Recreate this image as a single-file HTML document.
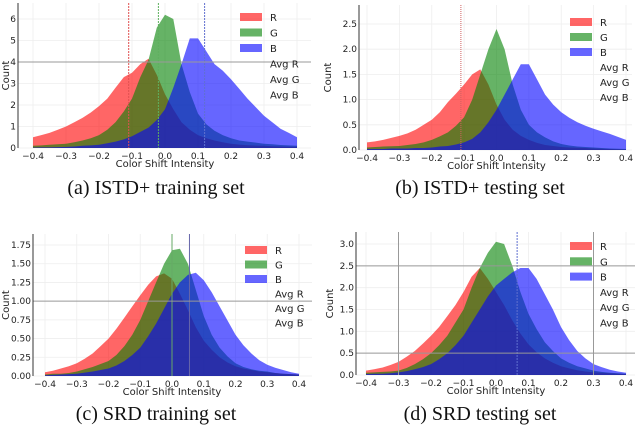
<!DOCTYPE html>
<html><head><meta charset="utf-8"><style>
body{margin:0;background:#fff;}
svg{display:block;font-family:"DejaVu Sans","Liberation Sans",sans-serif;}
.cap{font-family:"Liberation Serif",serif;font-size:20px;fill:#111;}
.tk{font-size:9px;fill:#222;}
.lg{font-size:10px;fill:#222;}
</style></head><body>
<svg id="root" width="640" height="429" viewBox="0 0 640 429"></svg>
<script>
const xCats=[-0.4,-0.375,-0.35,-0.325,-0.3,-0.275,-0.25,-0.225,-0.2,-0.175,-0.15,-0.125,-0.1,-0.075,-0.05,-0.025,0,0.025,0.05,0.075,0.1,0.125,0.15,0.175,0.2,0.225,0.25,0.275,0.3,0.325,0.35,0.375,0.4];
const xTicks=[-0.4,-0.3,-0.2,-0.1,0.0,0.1,0.2,0.3,0.4];
const xTickLabels=["−0.4","−0.3","−0.2","−0.1","0.0","0.1","0.2","0.3","0.4"];
const aR=[0.5,0.6,0.7,0.85,1.0,1.2,1.4,1.65,1.95,2.3,2.8,3.3,3.5,3.9,4.15,3.4,2.5,1.8,1.2,0.85,0.6,0.45,0.35,0.27,0.2,0.16,0.13,0.11,0.1,0.08,0.07,0.06,0.05];
const aG=[0.1,0.12,0.15,0.17,0.2,0.27,0.35,0.45,0.6,0.85,1.2,1.7,2.3,3.3,4.1,5.6,6.2,6.0,3.9,2.6,1.6,1.1,0.8,0.6,0.45,0.35,0.3,0.25,0.2,0.17,0.14,0.12,0.1];
const aB=[0.02,0.03,0.03,0.04,0.05,0.07,0.1,0.12,0.15,0.22,0.3,0.4,0.55,0.75,0.95,1.3,1.8,2.8,3.9,5.1,5.1,4.5,3.9,3.6,3.2,2.75,2.3,1.9,1.5,1.2,0.9,0.7,0.5];
const aYTicks=[0,1,2,3,4,5,6];
const aYLabels=["0","1","2","3","4","5","6"];
const bR=[0.15,0.17,0.2,0.24,0.28,0.33,0.4,0.5,0.6,0.75,0.95,1.12,1.3,1.5,1.6,1.3,0.9,0.6,0.4,0.28,0.2,0.14,0.1,0.08,0.06,0.05,0.045,0.04,0.03,0.025,0.02,0.015,0.01];
const bG=[0.05,0.06,0.07,0.075,0.08,0.1,0.12,0.15,0.2,0.27,0.35,0.48,0.65,1.0,1.5,2.0,2.4,2.0,1.3,0.8,0.5,0.35,0.25,0.17,0.12,0.09,0.07,0.06,0.05,0.04,0.03,0.025,0.02];
const bB=[0.02,0.02,0.02,0.03,0.03,0.03,0.04,0.04,0.05,0.07,0.08,0.11,0.15,0.22,0.35,0.55,0.8,1.1,1.4,1.7,1.7,1.4,1.1,0.9,0.75,0.64,0.55,0.48,0.42,0.37,0.32,0.26,0.2];
const bYTicks=[0,0.5,1,1.5,2,2.5];
const bYLabels=["0.0","0.5","1.0","1.5","2.0","2.5"];
const cR=[0.05,0.07,0.1,0.13,0.17,0.23,0.3,0.4,0.5,0.63,0.78,0.93,1.08,1.22,1.33,1.37,1.3,1.1,0.88,0.65,0.47,0.35,0.25,0.18,0.13,0.1,0.08,0.06,0.05,0.04,0.03,0.025,0.02];
const cG=[0.02,0.03,0.03,0.04,0.06,0.09,0.12,0.16,0.2,0.28,0.4,0.55,0.75,1.0,1.25,1.5,1.68,1.7,1.5,1.15,0.8,0.55,0.38,0.26,0.17,0.12,0.09,0.07,0.06,0.04,0.03,0.025,0.02];
const cB=[0.01,0.015,0.02,0.025,0.03,0.045,0.06,0.08,0.1,0.14,0.2,0.28,0.38,0.53,0.7,0.9,1.1,1.25,1.35,1.38,1.28,1.12,0.93,0.74,0.55,0.41,0.3,0.21,0.15,0.11,0.08,0.05,0.03];
const cYTicks=[0,0.25,0.5,0.75,1,1.25,1.5,1.75];
const cYLabels=["0.00","0.25","0.50","0.75","1.00","1.25","1.50","1.75"];
const dR=[0.1,0.13,0.17,0.23,0.3,0.42,0.55,0.72,0.9,1.1,1.35,1.6,1.9,2.25,2.45,2.2,1.9,1.6,1.25,0.95,0.7,0.52,0.38,0.28,0.2,0.15,0.11,0.08,0.06,0.05,0.04,0.03,0.02];
const dG=[0.05,0.06,0.07,0.08,0.1,0.16,0.25,0.36,0.5,0.68,0.9,1.2,1.5,2.0,2.45,2.8,3.05,3.0,2.5,1.9,1.4,1.05,0.75,0.55,0.38,0.28,0.2,0.15,0.1,0.07,0.05,0.04,0.03];
const dB=[0.02,0.03,0.03,0.04,0.06,0.09,0.13,0.18,0.25,0.36,0.5,0.68,0.9,1.2,1.5,1.8,2.05,2.2,2.35,2.45,2.45,2.2,1.85,1.5,1.1,0.8,0.55,0.38,0.25,0.18,0.12,0.08,0.05];
const dYTicks=[0,0.5,1,1.5,2,2.5,3];
const dYLabels=["0.0","0.5","1.0","1.5","2.0","2.5","3.0"];

const NS="http://www.w3.org/2000/svg";
const root=document.getElementById('root');
function mk(tag,attrs,parent){const e=document.createElementNS(NS,tag);for(const k in attrs)e.setAttribute(k,attrs[k]);(parent||root).appendChild(e);return e;}

function panel(p){
  const g=mk('g',{});
  
  
  const sx=v=>p.x0+(v+0.4)/0.8*(p.x1-p.x0);
  const sy=v=>p.y0-(v/p.yv)*(p.y0-p.yt);
  xTicks.forEach((t,i)=>{
    const l=mk('line',{x1:sx(t),x2:sx(t),y1:p.top,y2:p.y0,stroke:'#eee','stroke-width':0.8},g);
    
    const tx=mk('text',{x:sx(t),y:p.y0+11,'text-anchor':'middle',class:'tk'},g);
    tx.textContent=xTickLabels[i];
    
  });
  p.yTicks.forEach((t,i)=>{
    const l=mk('line',{x1:p.ax,x2:p.right,y1:sy(t),y2:sy(t),stroke:'#eee','stroke-width':0.8},g);
    
    const tx=mk('text',{x:p.ax-2,y:sy(t)+3,'text-anchor':'end',class:'tk'},g);
    tx.textContent=p.yLabels[i];
    
  });
  const series=[[p.R,'rgba(255,0,0,0.6)','series-r'],[p.G,'rgba(0,128,0,0.6)','series-g'],[p.B,'rgba(0,0,255,0.6)','series-b']];
  series.forEach(s=>{
    let d='M'+sx(xCats[0])+','+sy(0);
    xCats.forEach((c,i)=>{d+=' L'+sx(c).toFixed(1)+','+sy(s[0][i]).toFixed(1);});
    d+=' L'+sx(xCats[xCats.length-1])+','+sy(0)+' Z';
    const a=mk('path',{d:d,fill:s[1]},g);
    
  });
  (p.vlines||[]).forEach(v=>{
    const l=mk('line',{x1:sx(v[0]),x2:sx(v[0]),y1:p.top,y2:p.y0,stroke:v[1],'stroke-width':1,'stroke-dasharray':v[2]||''},g);
    
  });
  (p.hlines||[]).forEach(v=>{
    const l=mk('line',{x1:p.ax,x2:p.right,y1:sy(v),y2:sy(v),stroke:'#999','stroke-width':1},g);
    
  });
  const sp=mk('line',{x1:p.ax,x2:p.ax,y1:p.top,y2:p.y0,stroke:'#333','stroke-width':1},g);
  
  const yl=mk('text',{x:0,y:0,transform:'translate('+(p.ylx)+','+((p.top+p.y0)/2)+') rotate(-90)','text-anchor':'middle',class:'lg'},g);
  yl.textContent='Count';
  const xl=mk('text',{x:(p.x0+p.x1)/2,y:p.y0+19,'text-anchor':'middle',class:'lg'},g);
  xl.textContent='Color Shift Intensity';
  const lg=mk('g',{},g);
  
  const lc=['rgba(255,0,0,0.6)','rgba(0,128,0,0.6)','rgba(0,0,255,0.6)'];
  const names=['R','G','B','Avg R','Avg G','Avg B'];
  names.forEach((n,i)=>{
    const yy=p.ly+i*p.ls;
    if(i<3){const r=mk('rect',{x:p.lx,y:yy-4,width:22,height:8,fill:lc[i]},lg);
      }
    const t=mk('text',{x:p.lx+30,y:yy+4,class:'lg'},lg);t.textContent=n;
    
  });
  const cap=mk('text',{x:p.cx,y:p.cy,'text-anchor':'middle',class:'cap'},g);
  cap.textContent=p.caption;
}
panel({name:'panel-a',x0:33,x1:297,y0:148,yt:19,yv:6,top:3,ax:18,right:311,ylx:9,R:aR,G:aG,B:aB,yTicks:aYTicks,yLabels:aYLabels,
  vlines:[[-0.11,'#e05050','2,1'],[-0.02,'#60b060','2,1'],[0.12,'#6070d0','2,1']],hlines:[4],lx:240,ly:17,ls:15.5,cx:156,cy:194,caption:'(a) ISTD+ training set'});
panel({name:'panel-b',x0:367,x1:626,y0:150,yt:24,yv:2.5,top:5,ax:359,right:632,ylx:331,R:bR,G:bG,B:bB,yTicks:bYTicks,yLabels:bYLabels,
  vlines:[[-0.11,'#d06060','1,1']],lx:570,ly:22,ls:15,cx:480,cy:194,caption:'(b) ISTD+ testing set'});
panel({name:'panel-c',x0:45,x1:299,y0:376,yt:245,yv:1.75,top:234,ax:33,right:312,ylx:9,R:cR,G:cG,B:cB,yTicks:cYTicks,yLabels:cYLabels,
  vlines:[[0.0,'#6a6','' ],[0.055,'#66a','']],hlines:[1.0],lx:245,ly:250,ls:14.5,cx:156,cy:420,caption:'(c) SRD training set'});
panel({name:'panel-d',x0:366,x1:626,y0:375,yt:244,yv:3.0,top:232,ax:356,right:635,ylx:333,R:dR,G:dG,B:dB,yTicks:dYTicks,yLabels:dYLabels,
  vlines:[[-0.3,'#999',''],[0.3,'#999',''],[0.065,'#6070d0','2,1']],hlines:[2.5,0.5],lx:570,ly:246,ls:15.3,cx:480,cy:420,caption:'(d) SRD testing set'});
</script>
</body></html>
